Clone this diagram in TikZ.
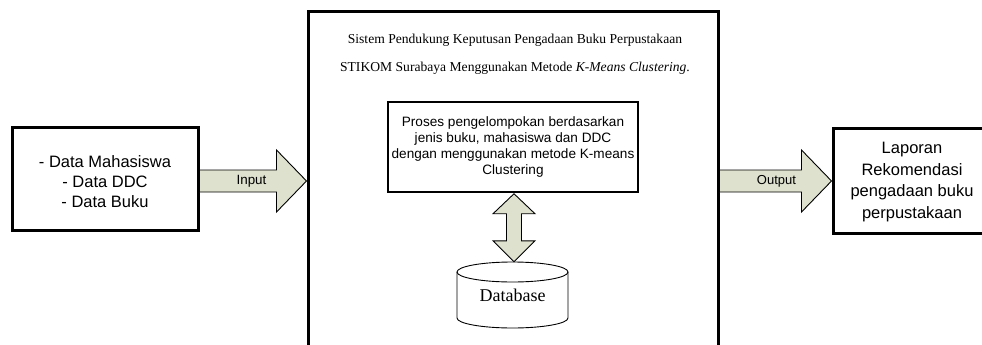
\documentclass[tikz,border=0pt]{standalone}
\usepackage{fontspec}
\setmainfont{Liberation Serif}
\newfontfamily\arialf{Liberation Sans}
\usetikzlibrary{calc}
\definecolor{arrowfill}{RGB}{221,225,206}
\begin{document}
\begin{tikzpicture}[x=1pt,y=-1pt,
  thickbox/.style={draw,line width=3pt,inner sep=0pt},
  procbox/.style={draw,line width=1.5pt,inner sep=0pt,align=center},
  blockarrow/.style={draw,line width=0.9pt,fill=arrowfill,line join=miter},
  bigsans/.style={font=\arialf\fontsize{16.5}{21.5}\selectfont,align=center,inner sep=0pt},
  lbl/.style={font=\arialf\fontsize{13.4}{15}\selectfont,inner sep=0pt}
]
\useasboundingbox (0,0) rectangle (982,345);

% boxes
\node[thickbox,minimum width=186,minimum height=103] (src) at (105,178.5) {};
\node[bigsans,font=\arialf\fontsize{16.5}{20}\selectfont] (srct) at (105,182) {- Data Mahasiswa\\- Data DDC\\- Data Buku};

\node[thickbox,minimum width=410,minimum height=360] (main) at (513,192) {};
\node[font=\fontsize{13.6}{28}\selectfont,align=center,inner sep=0pt] (title) at (515,54)
  {Sistem Pendukung Keputusan Pengadaan Buku Perpustakaan\\STIKOM Surabaya Menggunakan Metode \textit{K-Means Clustering}.};

\node[procbox,minimum width=250,minimum height=90,font=\arialf\fontsize{13.6}{15.8}\selectfont] (proc) at (513,147)
  {Proses pengelompokan berdasarkan\\jenis buku, mahasiswa dan DDC\\dengan menggunakan metode K-means\\Clustering};

\node[thickbox,minimum width=180,minimum height=105] (dst) at (923,180.5) {};
\node[bigsans] (dstt) at (912,182) {Laporan\\Rekomendasi\\pengadaan buku\\perpustakaan};

% database cylinder
\node[font=\fontsize{18}{20}\selectfont,minimum width=111,minimum height=66,inner sep=0pt] (db) at (512.5,295) {Database};
\draw[line width=0.9pt] (512.5,272) ellipse [x radius=55.5pt, y radius=10pt];
\draw[line width=0.9pt] (457,272) -- (457,318) arc[start angle=180,end angle=360,x radius=55.5pt,y radius=10pt] -- (568,272);

% input arrow
\coordinate (ylev) at (0,181);
\coordinate (iS) at (src.east |- ylev);
\coordinate (iE) at (main.west |- ylev);
\draw[blockarrow] ($(iS)+(0,-11)$) -- ($(iE)+(-30,-11)$) -- ($(iE)+(-30,-31)$) -- (iE)
  -- ($(iE)+(-30,31)$) -- ($(iE)+(-30,11)$) -- ($(iS)+(0,11)$) -- cycle;
\node[lbl] (inl) at ($(iS)+(52,0)$) {Input};

% output arrow
\coordinate (oS) at (main.east |- ylev);
\coordinate (oE) at (dst.west |- ylev);
\draw[blockarrow] ($(oS)+(0,-11)$) -- ($(oE)+(-30,-11)$) -- ($(oE)+(-30,-31)$) -- (oE)
  -- ($(oE)+(-30,31)$) -- ($(oE)+(-30,11)$) -- ($(oS)+(0,11)$) -- cycle;
\node[lbl,font=\arialf\fontsize{13}{15}\selectfont] (outl) at ($(oS)+(57,0)$) {Output};

% double arrow between process and database
\coordinate (T) at ($(proc.south)+(1,1)$);
\coordinate (B) at ($(db.north)+(1.5,0)$);
\draw[blockarrow] (T) -- ($(T)+(21,20)$) -- ($(T)+(7.5,20)$) -- ($(B)+(7.5,-21)$) -- ($(B)+(21,-21)$) -- (B)
  -- ($(B)+(-21,-21)$) -- ($(B)+(-7.5,-21)$) -- ($(T)+(-7.5,20)$) -- ($(T)+(-21,20)$) -- cycle;
\end{tikzpicture}
\end{document}
